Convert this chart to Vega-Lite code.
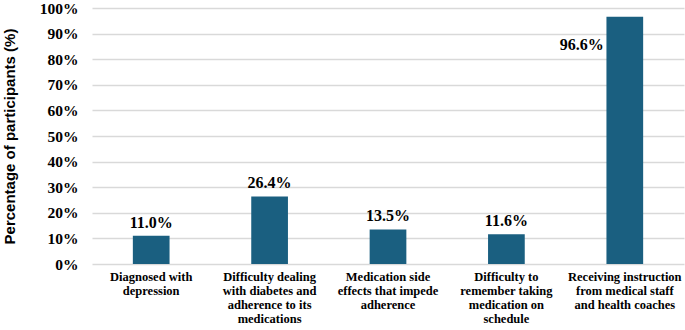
{
  "$schema": "https://vega.github.io/schema/vega-lite/v6.json",
  "width": 592,
  "height": 256,
  "autosize": {"type": "none"},
  "padding": {"left": 92, "top": 8, "right": 1, "bottom": 66},
  "background": "white",
  "config": {"view": {"stroke": null}},
  "data": {
    "values": [
      {"category": "Diagnosed with|depression", "value": 11.0, "label": "11.0%"},
      {"category": "Difficulty dealing|with diabetes and|adherence to its|medications", "value": 26.4, "label": "26.4%"},
      {"category": "Medication side|effects that impede|adherence", "value": 13.5, "label": "13.5%"},
      {"category": "Difficulty to|remember taking|medication on|schedule", "value": 11.6, "label": "11.6%"},
      {"category": "Receiving instruction|from medical staff|and health coaches", "value": 96.6, "label": "96.6%"}
    ]
  },
  "encoding": {
    "x": {
      "field": "category",
      "type": "nominal",
      "sort": null,
      "scale": {"paddingInner": 0.69, "paddingOuter": 0.345},
      "axis": {
        "title": null,
        "labelAngle": 0,
        "labelExpr": "split(datum.value, '|')",
        "labelFont": "Times New Roman, Liberation Serif, serif",
        "labelFontWeight": "bold",
        "labelFontSize": 12.5,
        "labelLineHeight": 14,
        "labelColor": "#000000",
        "labelPadding": 6,
        "labelBaseline": "top",
        "ticks": false,
        "domain": false
      }
    },
    "y": {
      "field": "value",
      "type": "quantitative",
      "scale": {"domain": [0, 100], "nice": false},
      "axis": {
        "title": "Percentage of participants (%)",
        "titleFont": "Liberation Sans",
        "titleFontWeight": "bold",
        "titleFontSize": 15,
        "titleColor": "#000000",
        "titleX": -75,
        "titleY": 128,
        "titleAnchor": "middle",
        "values": [0, 10, 20, 30, 40, 50, 60, 70, 80, 90, 100],
        "labelExpr": "datum.value + '%'",
        "labelFont": "Times New Roman, Liberation Serif, serif",
        "labelFontWeight": "bold",
        "labelFontSize": 15.5,
        "labelColor": "#000000",
        "labelPadding": 14,
        "ticks": false,
        "domain": false,
        "grid": true,
        "gridColor": "#d9d9d9",
        "gridWidth": 1.5
      }
    }
  },
  "layer": [
    {"mark": {"type": "bar", "color": "#1a5f80"}},
    {
      "transform": [{"filter": "datum.value < 90"}],
      "mark": {"type": "text", "font": "Times New Roman, Liberation Serif, serif", "fontWeight": "bold", "fontSize": 16, "baseline": "bottom", "dy": -5, "color": "#000000"},
      "encoding": {"text": {"field": "label"}}
    },
    {
      "transform": [{"filter": "datum.value >= 90"}],
      "mark": {"type": "text", "font": "Times New Roman, Liberation Serif, serif", "fontWeight": "bold", "fontSize": 16, "align": "right", "baseline": "middle", "dx": -21, "dy": 28, "color": "#000000"},
      "encoding": {"text": {"field": "label"}}
    }
  ]
}
